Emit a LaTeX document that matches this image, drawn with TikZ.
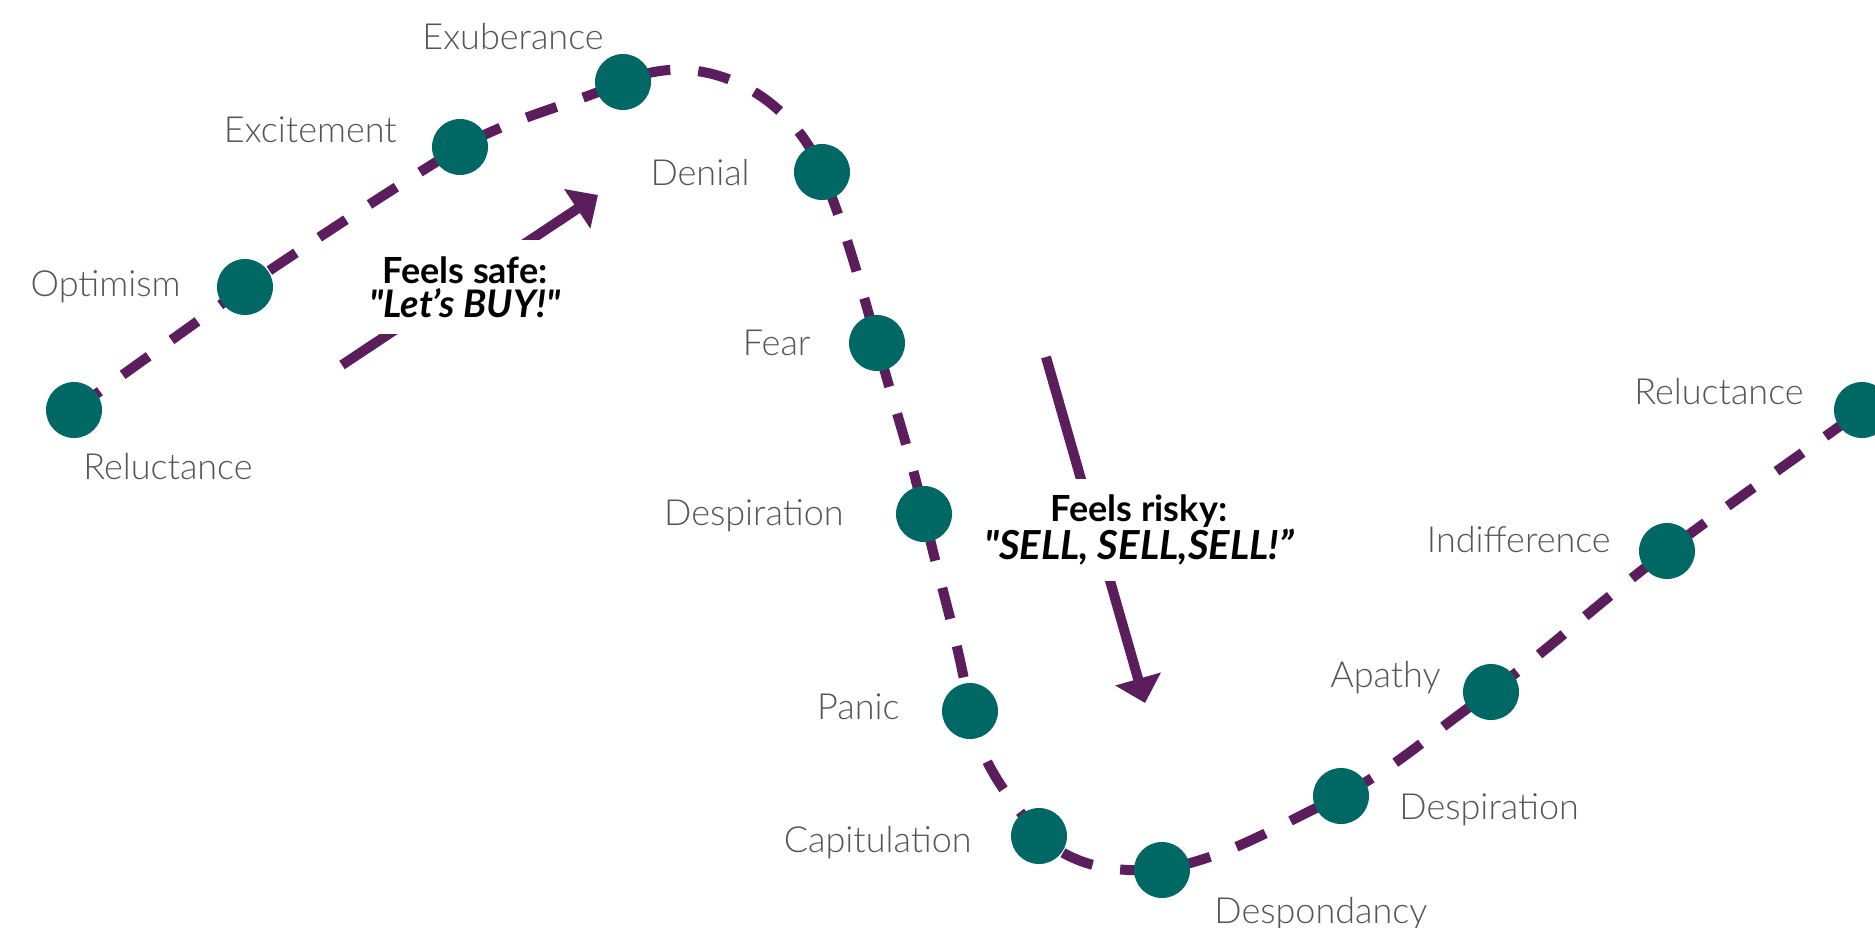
\documentclass[tikz,border=0pt]{standalone}
\usepackage{fontspec}
\setmainfont{Lato}
\newfontfamily\stagefont{Lato Light}
\newfontfamily\calloutfont{Lato}
\usetikzlibrary{arrows.meta, backgrounds}

\definecolor{trendpurple}{RGB}{91,29,92}
\definecolor{dotteal}{RGB}{0,104,100}
\definecolor{labelgray}{RGB}{85,85,85}

\tikzset{
    dot/.style={circle, fill=dotteal, minimum size=28pt, inner sep=0pt},
    lbl/.style={font=\stagefont\fontsize{18}{20}\selectfont, text=labelgray, inner sep=0pt, text height=12.5pt, text depth=3.5pt},
    trend/.style={draw=trendpurple, line width=5pt, dash pattern=on 16pt off 14pt},
    mood/.style={draw=trendpurple, line width=5pt, -{Triangle[length=12.5pt,width=23pt]}},
    callout/.style={fill=white, align=center, font=\calloutfont\fontsize{18}{17}\selectfont\bfseries, inner xsep=2pt, inner ysep=8pt}
}

\begin{document}
\begin{tikzpicture}[x=0.5pt, y=-0.5pt]
    \useasboundingbox (0,0) rectangle (1875,927);
    \clip (0,0) rectangle (1875,927);

    \node[dot] (r1) at (74,410) {};
    \node[dot] (opt) at (245,287) {};
    \node[dot] (exc) at (460,147) {};
    \node[dot] (exu) at (623,82) {};
    \node[dot] (denial) at (822,172) {};
    \node[dot] (fear) at (877,343) {};
    \node[dot] (desp) at (924,514) {};
    \node[dot] (panic) at (970,711) {};
    \node[dot] (capit) at (1039,836) {};
    \node[dot] (despond) at (1162,870) {};
    \node[dot] (desp2) at (1341,796) {};
    \node[dot] (apathy) at (1491,692) {};
    \node[dot] (indiff) at (1667,551) {};
    \node[dot] (r2) at (1862,410) {};

    \node[lbl, anchor=east] (exu-lbl) at (604,40) {Exuberance};
    \node[lbl, anchor=east] (exc-lbl) at (397,133) {Excitement};
    \node[lbl, anchor=east] (opt-lbl) at (181,287) {Optimism};
    \node[lbl, anchor=west] (r1-lbl) at (83,470) {Reluctance};
    \node[lbl, anchor=east] (denial-lbl) at (750,176) {Denial};
    \node[lbl, anchor=east] (fear-lbl) at (811,346) {Fear};
    \node[lbl, anchor=east] (desp-lbl) at (844,516) {Despiration};
    \node[lbl, anchor=east] (panic-lbl) at (900,710) {Panic};
    \node[lbl, anchor=east] (capit-lbl) at (972,843) {Capitulation};
    \node[lbl, anchor=west] (despond-lbl) at (1214,914) {Despondancy};
    \node[lbl, anchor=west] (desp2-lbl) at (1399,810) {Despiration};
    \node[lbl, anchor=east] (apathy-lbl) at (1441,678) {Apathy};
    \node[lbl, anchor=east] (indiff-lbl) at (1611,543) {Indifference};
    \node[lbl, anchor=east] (r2-lbl) at (1804,395) {Reluctance};

    \begin{scope}[on background layer]
        \draw[trend] (r1.center) to[out=36,in=216] (opt.center)
            to[out=34,in=212] (exc.center)
            to[out=28,in=203] (exu.center)
            to[out=25,in=112] (denial.center)
            to[out=-68,in=106] (fear.center)
            to[out=-75,in=103] (desp.center)
            to[out=-77,in=100] (panic.center)
            to[out=-78,in=128] (capit.center)
            to[out=-40,in=182] (despond.center)
            to[out=12,in=205] (desp2.center)
            to[out=28,in=214] (apathy.center)
            to[out=37,in=217] (indiff.center)
            to[out=37,in=216] (r2.center);
    \end{scope}

    \coordinate (buy-from) at (342,365);
    \coordinate (buy-to) at (598,195);
    \coordinate (sell-from) at (1046,357);
    \coordinate (sell-to) at (1145,703);
    \draw[mood] (buy-from) -- (buy-to);
    \draw[mood] (sell-from) -- (sell-to);

    \node[callout] (safe) at (465,287) {Feels safe:\\{\fontsize{19}{17}\selectfont\itshape "Let’s BUY!"}};
    \node[callout] (risky) at (1139,530) {Feels risky:\\{\fontsize{20}{17}\selectfont\itshape "SELL, SELL,SELL!”}};
\end{tikzpicture}
\end{document}
